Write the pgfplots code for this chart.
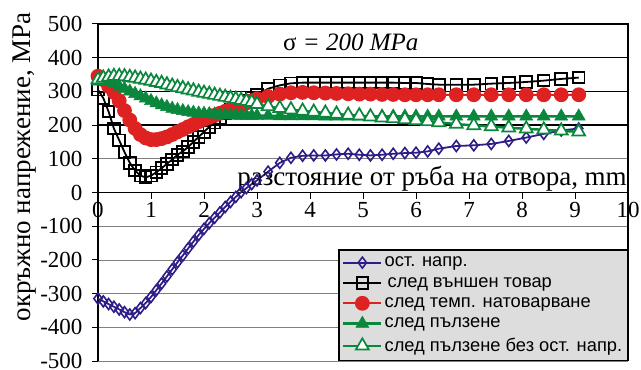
\documentclass[border=0pt]{standalone}
\usepackage{pgfplots}
\pgfplotsset{compat=1.18}
\usepackage{pgfplotstable}
\usepackage{fontspec}
\setmainfont{Liberation Serif}
\newfontfamily\arial{Liberation Sans}
\usetikzlibrary{calc}

\definecolor{resblue}{RGB}{45,30,135}
\definecolor{tempred}{RGB}{222,34,34}
\definecolor{creepgreen}{RGB}{10,135,60}
\definecolor{legendgray}{RGB}{221,221,221}
\definecolor{gridgray}{RGB}{128,128,128}

% x [mm], residual, after external load, after temp. loading, after creep, creep without residual
\pgfplotstableread{
x     res   ext   temp  creep  creepnr
0.0  -315   305   345   330    335
0.1  -323   280   335   330    340
0.2  -331   240   315   328    343
0.3  -339   190   297   322    345
0.4  -347   155   272   315    345
0.5  -355   120   243   308    344
0.6  -362    88   215   300    342
0.7  -358    65   190   293    340
0.8  -343    50   172   286    337
0.9  -328    45   162   279    334
1.0  -310    50   157   272    331
1.1  -290    60   157   265    327
1.2  -270    72   160   259    324
1.3  -249    85   165   254    320
1.4  -228    98   172   249    316
1.5  -207   112   180   245    312
1.6  -187   122   187   242    309
1.7  -166   135   195   239    305
1.8  -146   150   202   237    302
1.9  -126   165   210   235    298
2.0  -108   180   217   234    295
2.1   -91   195   223   233    292
2.2   -75   207   229   232    289
2.3   -59   220   235   231    286
2.4   -43   234   241   230    283
2.5   -28   245   248   229    280
2.6   -13   255   254   229    277
2.7     1   264   260   228    274
2.8    13   272   266   228    271
2.9    25   280   272   228    268
3.0    36   290   278   228    262
3.21   62   308   285   228    255
3.43   88   318   292   227    250
3.64  103   324   296   227    246
3.86  109   326   297   227    242
4.07  110   326   296   227    239
4.29  110   326   295   226    236
4.50  113   326   294   226    233
4.72  115   326   293   226    230
4.93  112   326   292   226    228
5.14  110   326   292   226    225
5.36  112   326   291   226    222
5.57  115   326   291   226    220
5.79  117   325   290   226    217
6.00  118   325   290   226    214
6.22  122   322   290   226    211
6.43  130   320   290   226    208
6.76  138   320   290   226    203
7.09  140   320   290   226    199
7.42  144   323   290   226    196
7.75  153   325   290   226    192
8.08  163   328   290   226    189
8.41  174   332   290   226    186
8.74  184   337   290   226    183
9.07  190   341   290   226    180
}\stressdata

\begin{document}
\begin{tikzpicture}
\begin{axis}[
  name=ax,
  scale only axis,
  width=530pt, height=337pt,
  xmin=0, xmax=10, ymin=-500, ymax=500,
  clip=false,
  axis x line=middle,
  axis y line=left,
  axis line style={-, black, line width=1.5pt},
  hide obscured x ticks=false,
  xtick={0,1,...,10},
  ytick={-500,-400,...,500},
  tick align=outside,
  major tick length=6pt,
  tick style={black, line width=1pt},
  /pgf/number format/assume math mode=true,
  ticklabel style={font=\fontsize{23}{23}\selectfont},
  xticklabel style={yshift=0pt},
  yticklabel style={xshift=-6pt},
  ymajorgrids,
  grid style={gridgray, line width=0.8pt},
  extra y ticks={200,400},
  extra y tick labels={},
  extra y tick style={grid style={black, line width=1.4pt}, major tick length=0pt},
  ylabel={окръжно напрежение, MPa},
  ylabel style={at={(axis description cs:0,0.576)}, anchor=center, yshift=73pt, font=\fontsize{27}{27}\selectfont},
  legend style={at={(rel axis cs:1,0)}, anchor=south east,
    fill=legendgray, draw=black, line width=1.5pt,
    font=\arial\fontsize{18.3}{21}\selectfont,
    inner xsep=3pt, inner ysep=5pt, row sep=5pt},
  legend cell align=left,
  legend image code/.code={\draw[mark repeat=2,mark phase=2] plot coordinates {(0pt,0pt)(19pt,0pt)(38pt,0pt)};},
]
% frame on top and right, and the thin black line at 300
\draw[black, line width=0.8pt] (axis cs:0,300) -- (axis cs:10,300);
\draw[black, line width=1.5pt] (rel axis cs:0,1) -- (rel axis cs:1,1) -- (rel axis cs:1,0);

\addplot[resblue, line width=1.8pt, mark=diamond, mark size=5.5pt,
  mark options={fill=white, line width=1.6pt, solid}] table[x=x, y=res] {\stressdata};
\addlegendentry{ост. напр.}

\addplot[black, line width=1.8pt, mark=square, mark size=5.8pt,
  mark options={fill=white, line width=1.9pt, solid}] table[x=x, y=ext] {\stressdata};
\addlegendentry{\,след външен товар}

\addplot[tempred, line width=2pt, mark=*, mark size=6.4pt,
  mark options={fill=tempred, draw=tempred}] table[x=x, y=temp] {\stressdata};
\addlegendentry{след темп. натоварване}

\addplot[creepgreen, line width=2.5pt, mark=triangle*, mark size=7.5pt,
  mark options={fill=creepgreen, draw=creepgreen, line width=0.5pt}] table[x=x, y=creep] {\stressdata};
\addlegendentry{след пълзене}

\addplot[creepgreen, line width=2.5pt, mark=triangle*, mark size=7.5pt,
  mark options={fill=white, draw=creepgreen, line width=1.7pt}] table[x=x, y=creepnr] {\stressdata};
\addlegendentry{след пълзене без ост. напр.}

\node[anchor=east, font=\fontsize{27}{27}\selectfont, inner sep=0pt] at (axis cs:9.98,40) {разстояние от ръба на отвора, mm};
\node[anchor=center, font=\fontsize{25}{25}\selectfont, inner sep=0pt] at (axis cs:4.77,446) {σ \textit{= 200 MPa}};
\end{axis}
\pgfresetboundingbox
\useasboundingbox ($(ax.south west)+(-98pt,-8pt)$) rectangle ($(ax.north east)+(13pt,24pt)$);
\end{tikzpicture}
\end{document}
